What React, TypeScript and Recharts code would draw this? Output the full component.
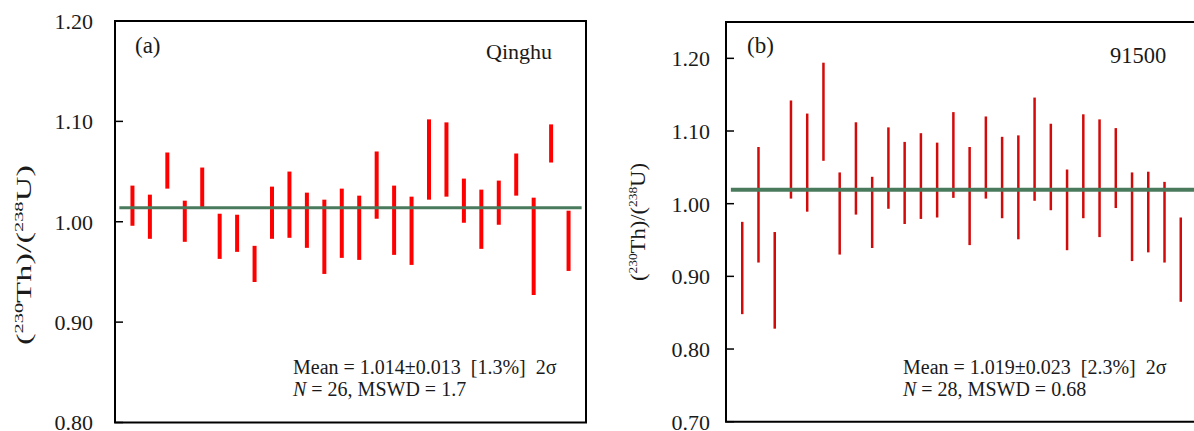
import React from 'react';
import { ScatterChart, Scatter, XAxis, YAxis, ErrorBar, ReferenceLine, ReferenceArea } from 'recharts';

// Panel (a) Qinghu: 2σ interval ends of (230Th)/(238U)
const A_HIGH = [1.036, 1.027, 1.069, 1.021, 1.054, 1.008, 1.007, 0.976, 1.035, 1.050, 1.029, 1.022, 1.033, 1.026, 1.070, 1.036, 1.025, 1.102, 1.099, 1.043, 1.032, 1.041, 1.068, 1.024, 1.097, 1.011];
const A_LOW = [0.996, 0.983, 1.033, 0.980, 1.013, 0.963, 0.970, 0.940, 0.983, 0.984, 0.974, 0.948, 0.964, 0.962, 1.003, 0.967, 0.957, 1.022, 1.025, 0.999, 0.973, 0.997, 1.026, 0.927, 1.059, 0.951];
const A_MEAN = 1.014;
const A_TICKS = [0.8, 0.9, 1.0, 1.1, 1.2];

// Panel (b) 91500
const B_HIGH = [0.975, 1.078, 0.961, 1.142, 1.124, 1.194, 1.043, 1.112, 1.037, 1.105, 1.085, 1.097, 1.084, 1.126, 1.078, 1.120, 1.092, 1.094, 1.146, 1.110, 1.047, 1.123, 1.116, 1.104, 1.043, 1.044, 1.030, 0.981];
const B_LOW = [0.848, 0.919, 0.828, 1.007, 0.989, 1.059, 0.930, 0.985, 0.939, 0.993, 0.972, 0.979, 0.981, 1.008, 0.943, 1.007, 0.980, 0.951, 1.004, 0.991, 0.936, 0.980, 0.954, 0.994, 0.921, 0.933, 0.919, 0.865];
const B_MEAN = 1.019;
const B_TICKS = [0.7, 0.8, 0.9, 1.0, 1.1, 1.2];

const SERIF = '"Liberation Serif", "Times New Roman", serif';

function buildRows(lo: number[], hi: number[]) {
  return lo.map((l, i) => {
    const mid = (l + hi[i]) / 2;
    return { x: i + 1, y: mid, err: [mid - l, hi[i] - mid] };
  });
}

const A_ROWS = buildRows(A_LOW, A_HIGH);
const B_ROWS = buildRows(B_LOW, B_HIGH);

function SerifTick(props: any) {
  const { x, y, payload } = props;
  return (
    <text x={x} y={y} dy="0.36em" textAnchor="end" fontFamily={SERIF} fontSize={22} fill="#1a1a1a">
      {Number(payload.value).toFixed(2)}
    </text>
  );
}

function YLabel({ x, y, length }: { x: number; y: number; length: number }) {
  return (
    <text
      transform={`translate(${x},${y}) rotate(-90)`}
      x={-length / 2}
      y={0}
      textLength={length}
      lengthAdjust="spacingAndGlyphs"
      fontFamily={SERIF}
      fontSize={22}
      fill="#1a1a1a"
    >
      <tspan>(</tspan>
      <tspan fontSize={13} dy={-8}>230</tspan>
      <tspan dy={8}>Th)/(</tspan>
      <tspan fontSize={13} dy={-8}>238</tspan>
      <tspan dy={8}>U)</tspan>
    </text>
  );
}

function StatText({ x, y, mean, n, mswd }: { x: number; y: number; mean: string; n: string; mswd: string }) {
  return (
    <g fontFamily={SERIF} fontSize={20} fill="#1a1a1a">
      <text x={x} y={y} style={{ whiteSpace: 'pre' }}>{mean}</text>
      <text x={x} y={y + 22} style={{ whiteSpace: 'pre' }}>
        <tspan fontStyle="italic">N</tspan>
        <tspan>{` = ${n}, MSWD = ${mswd}`}</tspan>
      </text>
    </g>
  );
}

function PanelA() {
  return (
    <ScatterChart width={600} height={431} margin={{ top: 21, right: 14, bottom: 8.5, left: 0 }}>
      <XAxis type="number" dataKey="x" domain={[0, 27]} hide />
      <YAxis
        type="number"
        dataKey="y"
        domain={[0.8, 1.2]}
        ticks={A_TICKS}
        interval={0}
        width={115}
        tick={<SerifTick />}
        tickSize={-8}
        tickMargin={30}
        axisLine={{ stroke: '#000', strokeWidth: 2 }}
        tickLine={{ stroke: '#000', strokeWidth: 1.5 }}
        allowDataOverflow
      />
      <ReferenceArea x1={0} x2={27} y1={0.8} y2={1.2} fill="none" stroke="#000" strokeWidth={2} />
      <Scatter data={A_ROWS} isAnimationActive={false} shape={() => <g />}>
        <ErrorBar dataKey="err" direction="y" width={0} stroke="#ff0000" strokeWidth={4} isAnimationActive={false} />
      </Scatter>
      <ReferenceLine
        segment={[{ x: 0.25, y: A_MEAN }, { x: 26.75, y: A_MEAN }]}
        stroke="#4a7a5c"
        strokeWidth={3}
      />
      <YLabel x={31} y={255} length={180} />
      <text x={135} y={53} fontFamily={SERIF} fontSize={23} fill="#1a1a1a">(a)</text>
      <text x={486} y={59} fontFamily={SERIF} fontSize={22} fill="#1a1a1a">Qinghu</text>
      <StatText x={293} y={374} mean="Mean = 1.014±0.013  [1.3%]  2σ" n="26" mswd="1.7" />
    </ScatterChart>
  );
}

function PanelB() {
  return (
    <ScatterChart width={600} height={431} margin={{ top: 22, right: 3, bottom: 9.3, left: 0 }}>
      <XAxis type="number" dataKey="x" domain={[0, 29]} hide />
      <YAxis
        type="number"
        dataKey="y"
        domain={[0.7, 1.25]}
        ticks={B_TICKS}
        interval={0}
        width={126}
        tick={<SerifTick />}
        tickSize={-8}
        tickMargin={24}
        axisLine={{ stroke: '#000', strokeWidth: 2 }}
        tickLine={{ stroke: '#000', strokeWidth: 1.5 }}
        allowDataOverflow
      />
      <ReferenceArea x1={0} x2={29} y1={0.7} y2={1.25} fill="none" stroke="#000" strokeWidth={2} />
      <Scatter data={B_ROWS} isAnimationActive={false} shape={() => <g />}>
        <ErrorBar dataKey="err" direction="y" width={0} stroke="#d20a0a" strokeWidth={2.5} isAnimationActive={false} />
      </Scatter>
      <ReferenceLine
        segment={[{ x: 0.3, y: B_MEAN }, { x: 28.95, y: B_MEAN }]}
        stroke="#4a7a5c"
        strokeWidth={4}
      />
      <YLabel x={45} y={222} length={118} />
      <text x={147} y={53} fontFamily={SERIF} fontSize={23} fill="#1a1a1a">(b)</text>
      <text x={510} y={63} fontFamily={SERIF} fontSize={22.5} fill="#1a1a1a">91500</text>
      <StatText x={303} y={374} mean="Mean = 1.019±0.023  [2.3%]  2σ" n="28" mswd="0.68" />
    </ScatterChart>
  );
}

export default function App() {
  return (
    <div style={{ position: 'absolute', left: 0, top: 0, width: 1194, height: 431, overflow: 'hidden', background: '#fff' }}>
      <div style={{ position: 'absolute', left: 0, top: 0 }}>
        <PanelA />
      </div>
      <div style={{ position: 'absolute', left: 600, top: 0 }}>
        <PanelB />
      </div>
    </div>
  );
}
